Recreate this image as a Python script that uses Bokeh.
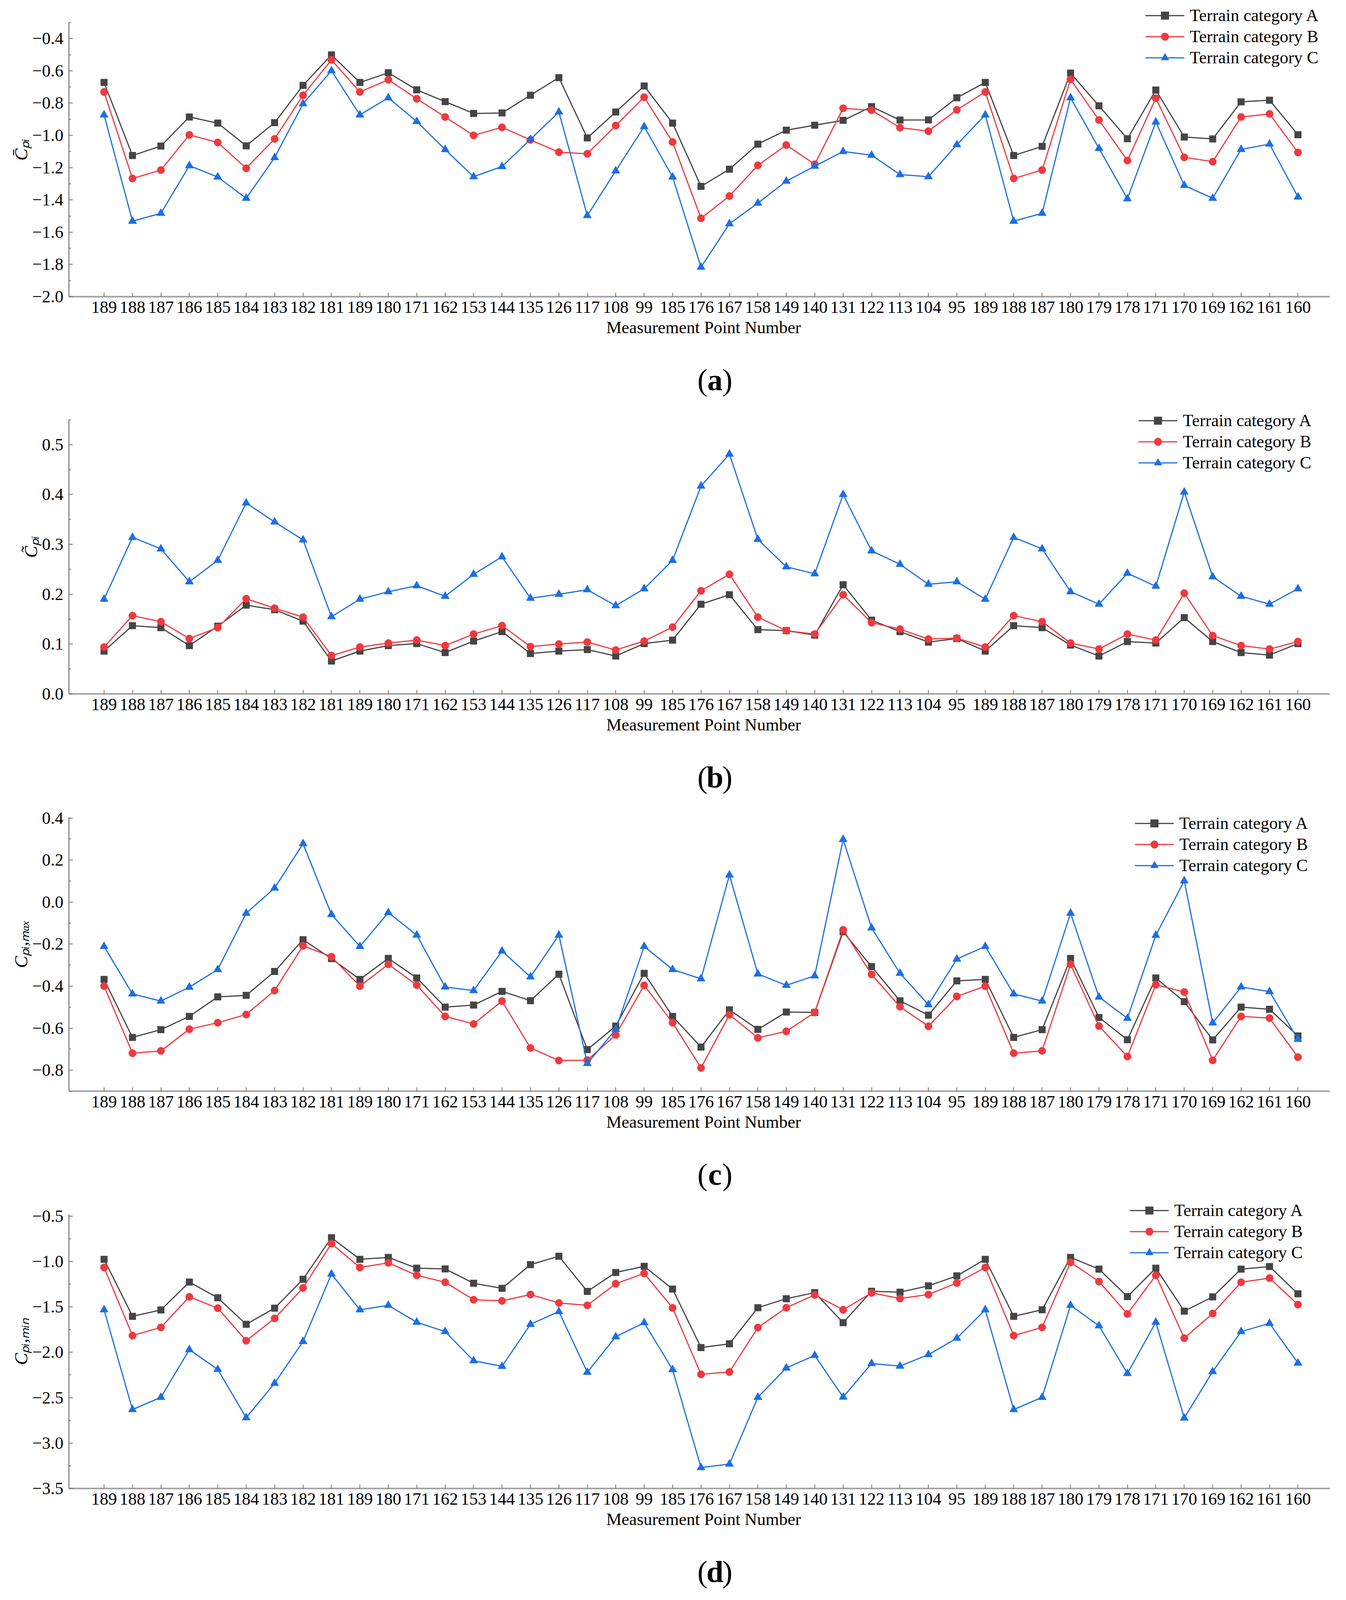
from bokeh.plotting import figure
from bokeh.models import Range1d, FixedTicker, CustomJSTickFormatter, Legend, LegendItem
from bokeh.layouts import column
from bokeh.embed import file_html
from bokeh.resources import INLINE
from bokeh.core.properties import value

# ---------------- data ----------------
point_labels = [189, 188, 187, 186, 185, 184, 183, 182, 181,
                189, 180, 171, 162, 153, 144, 135, 126, 117, 108, 99,
                185, 176, 167, 158, 149, 140, 131, 122, 113, 104, 95,
                189, 188, 187, 180, 179, 178, 171, 170, 169, 162, 161, 160]

series_names = ["Terrain category A", "Terrain category B", "Terrain category C"]

# (a) mean pressure coefficient
mean_A = [-0.672, -1.125, -1.066, -0.886, -0.924, -1.065, -0.921, -0.690, -0.501,
          -0.672, -0.612, -0.718, -0.791, -0.864, -0.861, -0.751, -0.642, -1.016, -0.855, -0.694,
          -0.924, -1.316, -1.210, -1.054, -0.968, -0.937, -0.907, -0.822, -0.905, -0.904, -0.767,
          -0.672, -1.125, -1.068, -0.614, -0.817, -1.021, -0.719, -1.010, -1.022, -0.792, -0.782, -0.996]
mean_B = [-0.731, -1.267, -1.215, -0.997, -1.044, -1.204, -1.022, -0.751, -0.532,
          -0.731, -0.655, -0.773, -0.886, -1.000, -0.950, -1.028, -1.104, -1.114, -0.939, -0.763,
          -1.041, -1.514, -1.376, -1.186, -1.060, -1.179, -0.832, -0.844, -0.952, -0.974, -0.842,
          -0.731, -1.267, -1.215, -0.653, -0.905, -1.156, -0.770, -1.136, -1.163, -0.886, -0.867, -1.106]
mean_C = [-0.873, -1.532, -1.483, -1.188, -1.258, -1.390, -1.138, -0.804, -0.599,
          -0.873, -0.767, -0.914, -1.088, -1.256, -1.193, -1.025, -0.855, -1.497, -1.220, -0.946,
          -1.258, -1.817, -1.548, -1.420, -1.284, -1.191, -1.100, -1.123, -1.243, -1.256, -1.058,
          -0.873, -1.532, -1.483, -0.767, -1.081, -1.393, -0.917, -1.310, -1.390, -1.087, -1.054, -1.382]

# (b) fluctuating pressure coefficient
rms_A = [0.086, 0.137, 0.133, 0.097, 0.136, 0.178, 0.169, 0.146, 0.066,
         0.086, 0.097, 0.101, 0.083, 0.106, 0.125, 0.081, 0.086, 0.089, 0.076, 0.101,
         0.108, 0.180, 0.199, 0.129, 0.127, 0.118, 0.219, 0.148, 0.125, 0.104, 0.111,
         0.086, 0.137, 0.133, 0.098, 0.076, 0.105, 0.102, 0.153, 0.105, 0.083, 0.078, 0.101]
rms_B = [0.094, 0.157, 0.145, 0.111, 0.133, 0.191, 0.172, 0.154, 0.077,
         0.094, 0.102, 0.108, 0.097, 0.120, 0.137, 0.095, 0.100, 0.104, 0.088, 0.106,
         0.134, 0.207, 0.240, 0.154, 0.127, 0.120, 0.199, 0.143, 0.130, 0.110, 0.112,
         0.094, 0.157, 0.145, 0.102, 0.090, 0.120, 0.108, 0.202, 0.117, 0.097, 0.090, 0.105]
rms_C = [0.190, 0.314, 0.291, 0.225, 0.268, 0.383, 0.345, 0.309, 0.155,
         0.190, 0.205, 0.217, 0.196, 0.240, 0.275, 0.192, 0.200, 0.209, 0.177, 0.211,
         0.268, 0.417, 0.481, 0.310, 0.255, 0.241, 0.400, 0.287, 0.260, 0.220, 0.225,
         0.190, 0.314, 0.291, 0.205, 0.180, 0.242, 0.216, 0.405, 0.235, 0.196, 0.180, 0.211]

# (c) maximum pressure coefficient
max_A = [-0.368, -0.644, -0.607, -0.544, -0.451, -0.444, -0.330, -0.179, -0.269,
         -0.368, -0.268, -0.361, -0.500, -0.490, -0.425, -0.469, -0.343, -0.702, -0.590, -0.339,
         -0.544, -0.690, -0.513, -0.606, -0.523, -0.525, -0.141, -0.307, -0.470, -0.538, -0.375,
         -0.368, -0.644, -0.607, -0.268, -0.549, -0.655, -0.361, -0.474, -0.656, -0.500, -0.510, -0.637]
max_B = [-0.400, -0.719, -0.708, -0.605, -0.574, -0.535, -0.421, -0.208, -0.260,
         -0.400, -0.296, -0.395, -0.544, -0.580, -0.471, -0.694, -0.754, -0.752, -0.632, -0.396,
         -0.574, -0.789, -0.536, -0.646, -0.615, -0.525, -0.132, -0.344, -0.498, -0.591, -0.449,
         -0.400, -0.719, -0.708, -0.296, -0.590, -0.735, -0.393, -0.428, -0.753, -0.544, -0.552, -0.738]
max_C = [-0.211, -0.437, -0.471, -0.405, -0.321, -0.053, 0.067, 0.278, -0.059,
         -0.211, -0.050, -0.157, -0.404, -0.421, -0.233, -0.356, -0.157, -0.768, -0.606, -0.211,
         -0.321, -0.365, 0.129, -0.342, -0.396, -0.351, 0.298, -0.123, -0.339, -0.488, -0.271,
         -0.211, -0.437, -0.471, -0.053, -0.452, -0.553, -0.158, 0.101, -0.575, -0.404, -0.426, -0.653]

# (d) minimum pressure coefficient
min_A = [-0.976, -1.604, -1.534, -1.227, -1.400, -1.692, -1.514, -1.196, -0.738,
         -0.976, -0.955, -1.074, -1.082, -1.240, -1.296, -1.035, -0.942, -1.330, -1.121, -1.053,
         -1.304, -1.948, -1.907, -1.509, -1.410, -1.343, -1.674, -1.328, -1.338, -1.268, -1.159,
         -0.976, -1.604, -1.532, -0.955, -1.084, -1.387, -1.074, -1.547, -1.390, -1.084, -1.056, -1.356]
min_B = [-1.066, -1.816, -1.726, -1.390, -1.514, -1.873, -1.627, -1.291, -0.803,
         -1.066, -1.015, -1.152, -1.229, -1.421, -1.434, -1.364, -1.457, -1.483, -1.245, -1.131,
         -1.511, -2.243, -2.217, -1.728, -1.509, -1.369, -1.532, -1.346, -1.408, -1.364, -1.237,
         -1.066, -1.816, -1.726, -1.009, -1.221, -1.578, -1.152, -1.845, -1.573, -1.229, -1.183, -1.475]
min_C = [-1.532, -2.631, -2.496, -1.971, -2.189, -2.721, -2.341, -1.881, -1.139,
         -1.532, -1.483, -1.669, -1.772, -2.093, -2.155, -1.692, -1.552, -2.220, -1.829, -1.674,
         -2.191, -3.270, -3.231, -2.496, -2.173, -2.035, -2.494, -2.124, -2.152, -2.026, -1.845,
         -1.532, -2.631, -2.496, -1.483, -1.708, -2.233, -1.669, -2.724, -2.212, -1.772, -1.682, -2.119]

# y axis ticks per panel
ticks_a = [-2.0, -1.8, -1.6, -1.4, -1.2, -1.0, -0.8, -0.6, -0.4]
minor_a = [-1.9, -1.7, -1.5, -1.3, -1.1, -0.9, -0.7, -0.5, -0.3]
ticks_b = [0.0, 0.1, 0.2, 0.3, 0.4, 0.5]
minor_b = [0.05, 0.15, 0.25, 0.35, 0.45, 0.55]
ticks_c = [-0.8, -0.6, -0.4, -0.2, 0.0, 0.2, 0.4]
minor_c = [-0.9, -0.7, -0.5, -0.3, -0.1, 0.1, 0.3]
ticks_d = [-3.5, -3.0, -2.5, -2.0, -1.5, -1.0, -0.5]
minor_d = [-3.25, -2.75, -2.25, -1.75, -1.25, -0.75]

# ---------------- style / layout ----------------
FONT = "Liberation Serif"
W = 3431
BL, BR, BT, BB = 176, 4, 6, 160
FH_REAL = 702           # axis-covered part of the frame
FH_TOT = 753            # frame incl. room above the axis for the legend
H_PLOT = BT + FH_TOT + BB
H_TAG = 98
FW_REAL = 3229
FW_TOT = W - BL - BR
X_RANGE = (-1.236, 43.12)
COLORS = ["#454545", "#ee3a3f", "#1c6fe3"]
MARKERS = [("square", 17), ("circle", 19), ("triangle", 21)]

fmt_code = "return (tick < -1e-9 ? '\\u2212' : '') + Math.abs(tick).toFixed(1);"


def make_panel(ys, y_rng, major, minor, ylabel, leg_xy):
    x0, x1 = X_RANGE
    y0, y1 = y_rng
    x_ext = x0 + (x1 - x0) * FW_TOT / FW_REAL
    y_ext = y0 + (y1 - y0) * FH_TOT / FH_REAL
    p = figure(width=W, height=H_PLOT, x_range=Range1d(x0, x_ext), y_range=Range1d(y0, y_ext),
               output_backend="svg", toolbar_location=None,
               min_border_left=BL, min_border_right=BR,
               min_border_top=BT, min_border_bottom=BB,
               background_fill_color="white", border_fill_color="white")
    p.xgrid.visible = False
    p.ygrid.visible = False
    p.outline_line_color = None

    x = list(range(len(point_labels)))
    items = []
    for name, col, (mk, sz), y in zip(series_names, COLORS, MARKERS, ys):
        r_line = p.line(x, y, line_color=col, line_width=3)
        r_pts = p.scatter(x, y, marker=mk, size=sz, fill_color=col, line_color=col)
        items.append(LegendItem(label=name, renderers=[r_line, r_pts]))

    leg = Legend(items=items, location=leg_xy, label_text_font=FONT,
                 label_text_font_size="44px", label_text_color="black",
                 glyph_width=100, glyph_height=49, label_height=49,
                 label_standoff=14, spacing=3, padding=0, margin=0,
                 border_line_color=None, background_fill_color="white",
                 background_fill_alpha=1.0)
    p.add_layout(leg)

    for ax in (p.xaxis[0], p.yaxis[0]):
        ax.axis_line_color = "#a0a0a0"
        ax.axis_line_width = 4
        ax.major_tick_in = 10
        ax.major_tick_out = 0
        ax.major_tick_line_color = "#707070"
        ax.major_tick_line_width = 2
        ax.minor_tick_in = 5
        ax.minor_tick_out = 0
        ax.minor_tick_line_color = "#707070"
        ax.minor_tick_line_width = 2
        ax.major_label_text_font = FONT
        ax.major_label_text_font_size = "44px"
        ax.major_label_text_color = "black"

    xa = p.xaxis[0]
    xa.bounds = (x0, x1)
    xa.ticker = FixedTicker(ticks=x, minor_ticks=[])
    xa.major_label_overrides = {i: str(l) for i, l in enumerate(point_labels)}
    xa.major_label_standoff = 12
    xa.axis_label = "Measurement Point Number"
    xa.axis_label_text_font = FONT
    xa.axis_label_text_font_size = "44px"
    xa.axis_label_text_font_style = "normal"
    xa.axis_label_text_color = "black"
    xa.axis_label_standoff = 10

    ya = p.yaxis[0]
    ya.bounds = (y0, y1)
    ya.ticker = FixedTicker(ticks=major, minor_ticks=minor)
    ya.formatter = CustomJSTickFormatter(code=fmt_code)
    ya.major_label_standoff = 14
    ya.axis_label = ylabel
    ya.axis_label_text_font = FONT
    ya.axis_label_text_font_size = "46px"
    ya.axis_label_text_font_style = "italic"
    ya.axis_label_text_color = "black"
    ya.axis_label_standoff = 0
    return p


def make_tag(tag):
    t = figure(width=W, height=H_TAG, x_range=Range1d(0, W), y_range=Range1d(0, H_TAG),
               output_backend="svg", toolbar_location=None, min_border=0,
               background_fill_color="white", border_fill_color="white")
    t.xaxis.visible = False
    t.yaxis.visible = False
    t.grid.visible = False
    t.outline_line_color = None
    cx, cy = 1746, 45
    t.text(x=[cx - 20], y=[cy], text=["("], text_font=value(FONT), text_font_size="78px",
           text_align="right", text_baseline="middle", text_color="black")
    t.text(x=[cx], y=[cy], text=[tag], text_font=value(FONT), text_font_size="78px",
           text_font_style="bold", text_align="center", text_baseline="middle",
           text_color="black")
    t.text(x=[cx + 20], y=[cy], text=[")"], text_font=value(FONT), text_font_size="78px",
           text_align="left", text_baseline="middle", text_color="black")
    return t


# legend positions (x, y of the legend's lower-left corner, px from frame lower-left)
pa = make_panel([mean_A, mean_B, mean_C], (-2.0, -0.3), ticks_a, minor_a,
                "C\u0304\u209a\u1d62", (2757, 586))
pb = make_panel([rms_A, rms_B, rms_C], (0.0, 0.55), ticks_b, minor_b,
                "C\u0303\u209a\u1d62", (2739, 566))
pc = make_panel([max_A, max_B, max_C], (-0.9, 0.405), ticks_c, minor_c,
                "C\u209a\u1d62,\u2098\u2090\u2093", (2730, 552))
pd = make_panel([min_A, min_B, min_C], (-3.5, -0.48), ticks_d, minor_d,
                "C\u209a\u1d62,\u2098\u1d62\u2099", (2717, 578))

layout = column(pa, make_tag("a"), pb, make_tag("b"), pc, make_tag("c"), pd, make_tag("d"))
open("out.html", "w", encoding="utf-8").write(file_html(layout, INLINE))
